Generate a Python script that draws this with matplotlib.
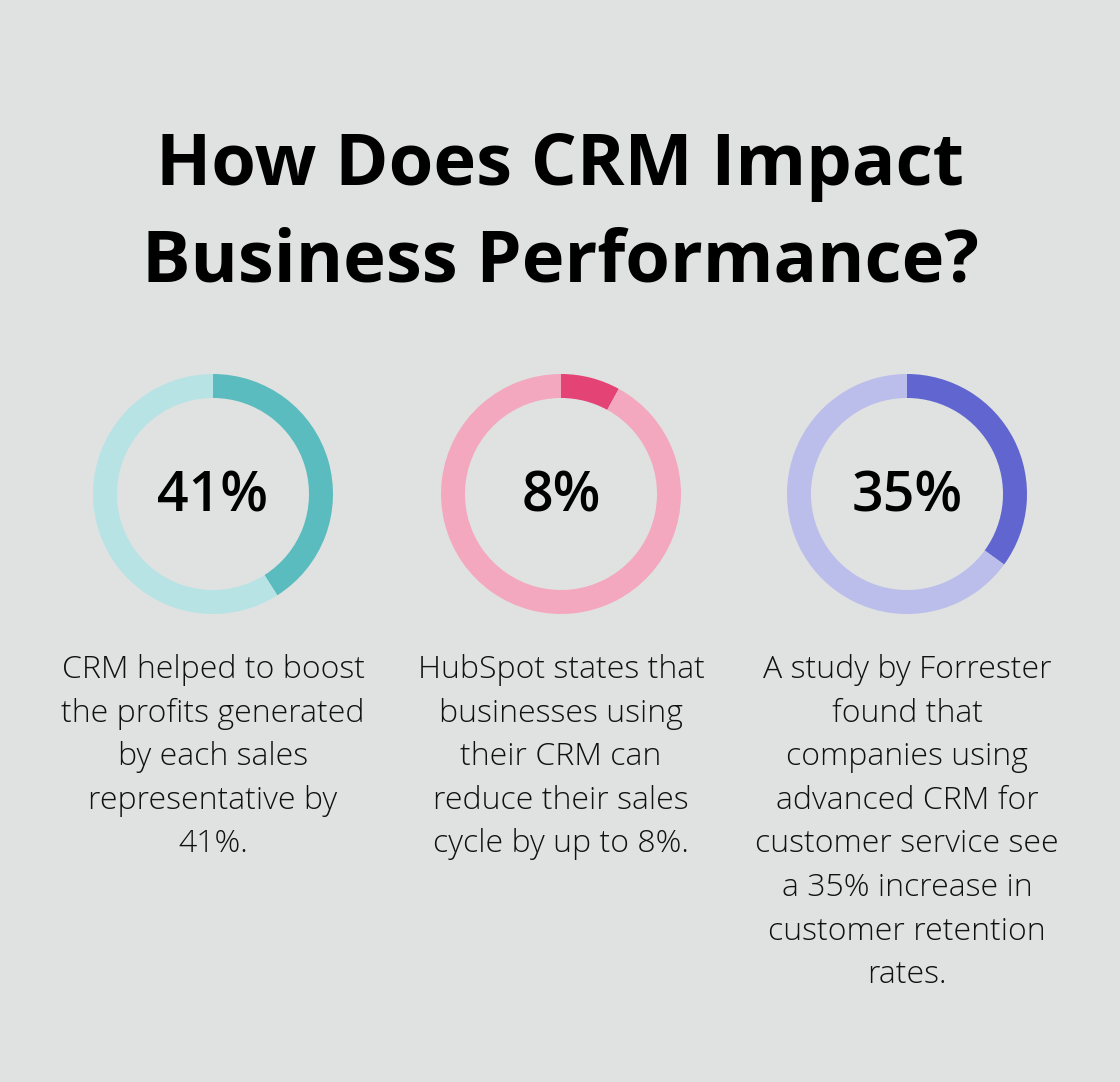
import matplotlib.pyplot as plt

# Data
TITLE_LINES = ["How Does CRM Impact", "Business Performance?"]
PERCENTS = [41, 8, 35]
LABELS = ["41%", "8%", "35%"]
DESCRIPTIONS = [
    ["CRM helped to boost", "the profits generated", "by each sales",
     "representative by", "41%."],
    ["HubSpot states that", "businesses using", "their CRM can",
     "reduce their sales", "cycle by up to 8%."],
    ["A study by Forrester", "found that", "companies using",
     "advanced CRM for", "customer service see", "a 35% increase in",
     "customer retention", "rates."],
]
DARK = ["#5BBCBF", "#E44475", "#6065D0"]
LIGHT = ["#B8E3E5", "#F3A8BF", "#BBBDEB"]

BG = "#E0E2E1"
W, H = 1120, 1082
plt.rcParams['font.family'] = ['Open Sans', 'DejaVu Sans']


def main():
    fig = plt.figure(figsize=(W / 100, H / 100), dpi=100, facecolor=BG)

    # background axes in pixel coords
    base = fig.add_axes([0, 0, 1, 1])
    base.set_xlim(0, W)
    base.set_ylim(H, 0)
    base.axis("off")

    base.text(560, 185, TITLE_LINES[0], ha="center", va="baseline",
              fontsize=52, fontweight="bold", color="black")
    base.text(560, 282, TITLE_LINES[1], ha="center", va="baseline",
              fontsize=52, fontweight="bold", color="black")

    centers = [213, 561, 907]
    cy, r = 494, 120
    for i, cx in enumerate(centers):
        ax = fig.add_axes([(cx - r) / W, 1 - (cy + r) / H, 2 * r / W, 2 * r / H])
        ax.pie([PERCENTS[i], 100 - PERCENTS[i]], colors=[DARK[i], LIGHT[i]],
               startangle=90, counterclock=False, radius=1,
               wedgeprops=dict(width=0.2, linewidth=0))
        ax.set_xlim(-1, 1)
        ax.set_ylim(-1, 1)
        ax.set_aspect("equal")
        ax.axis("off")

        base.text(cx, 512, LABELS[i], ha="center", va="baseline",
                  fontsize=40, fontweight="semibold", color="black")

        for j, line in enumerate(DESCRIPTIONS[i]):
            base.text(cx, 678 + j * 43.6, line, ha="center", va="baseline",
                      fontsize=23, fontweight="light", color="#111111")

    fig.savefig("out.png", dpi=100, facecolor=BG)


if __name__ == "__main__":
    main()
